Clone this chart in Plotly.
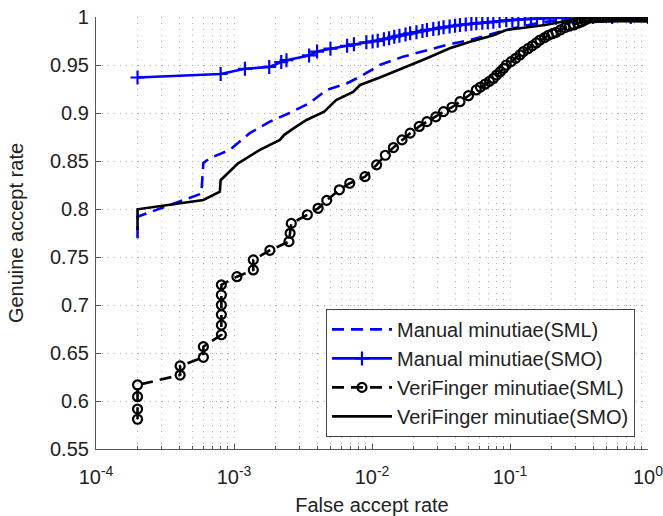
import plotly.graph_objects as go

# ---- data ----
manual_sml_far = [2e-4, 2e-4, 5.8e-4, 6.0e-4, 6.7e-4, 9.3e-4, 1.3e-3, 1.82e-3, 2.5e-3, 3.5e-3,
                  4.7e-3, 6.6e-3, 8.2e-3, 0.0114, 0.0168, 0.025, 0.0346, 0.0515, 0.0757, 0.094,
                  0.15, 0.25, 0.4, 0.6, 1.0]
manual_sml_gar = [0.7695, 0.792, 0.816, 0.848, 0.853, 0.8615, 0.879, 0.891, 0.8997, 0.910,
                  0.924, 0.931, 0.9378, 0.950, 0.9587, 0.9656, 0.9708, 0.976, 0.983, 0.9865,
                  0.993, 0.998, 1.0, 1.0, 1.0]

manual_smo_far = [2e-4, 8e-4, 1.2e-3, 1.8e-3, 2.2e-3, 2.4e-3, 3.5e-3, 4.0e-3, 5.0e-3, 6.6e-3,
                  7.4e-3, 9.1e-3, 0.0101, 0.0110, 0.0122, 0.0133, 0.0145, 0.0158, 0.0175, 0.0189,
                  0.0210, 0.0232, 0.0250, 0.0278, 0.0305, 0.0330, 0.0365, 0.0400, 0.0434, 0.0478,
                  0.0525, 0.0570, 0.0630, 0.0690, 0.0757, 0.0840, 0.0940, 0.104, 0.115, 0.128,
                  0.142, 0.157, 0.175, 0.195, 0.215, 0.240, 0.265, 0.295, 0.330, 0.40, 0.55,
                  0.75, 1.0]
manual_smo_gar = [0.937, 0.9406, 0.946, 0.948, 0.953, 0.955, 0.960, 0.964, 0.967, 0.970,
                  0.9715, 0.9736, 0.9745, 0.9752, 0.9768, 0.9778, 0.9795, 0.9805, 0.9818, 0.983,
                  0.9842, 0.9855, 0.9865, 0.9875, 0.9884, 0.9892, 0.9901, 0.991, 0.9917, 0.9923,
                  0.9929, 0.9934, 0.9940, 0.9945, 0.995, 0.9958, 0.9966, 0.997, 0.9974, 0.9978,
                  0.998, 0.9984, 0.9987, 0.999, 0.9992, 0.9994, 0.9996, 0.9998, 1.0, 1.0, 1.0,
                  1.0, 1.0]

veri_sml_far = [2e-4, 2e-4, 2e-4, 2e-4, 4.07e-4, 4.07e-4, 6.0e-4, 6.0e-4,
                8.1e-4, 8.1e-4, 8.1e-4, 8.1e-4, 8.1e-4, 8.1e-4,
                1.05e-3, 1.38e-3, 1.38e-3, 1.82e-3, 2.5e-3, 2.55e-3, 2.6e-3, 3.4e-3, 4.07e-3,
                4.7e-3, 5.8e-3, 6.9e-3, 8.9e-3, 0.0108, 0.0125, 0.0143, 0.0165, 0.0189, 0.022,
                0.025, 0.029, 0.033, 0.038, 0.0434, 0.050, 0.057, 0.061, 0.066, 0.071, 0.0757,
                0.080, 0.085, 0.090, 0.094, 0.102, 0.110, 0.118, 0.125, 0.135, 0.145, 0.155,
                0.165, 0.178, 0.19, 0.203, 0.216, 0.232, 0.25, 0.27, 0.29, 0.31, 0.33, 0.345,
                0.36, 0.38, 0.40, 0.42, 0.44, 0.46, 0.48, 0.50, 0.53, 0.56, 0.59, 0.62, 0.65,
                0.68, 0.71, 0.74, 0.77, 0.80, 0.83, 0.86, 0.89, 0.92, 0.95, 0.98, 1.0]
veri_sml_gar = [0.581, 0.5916, 0.6045, 0.6167, 0.627, 0.6365, 0.6455, 0.6566,
                0.669, 0.679, 0.690, 0.700, 0.7104, 0.721,
                0.7295, 0.7365, 0.747, 0.757, 0.766, 0.7747, 0.785, 0.794, 0.8007,
                0.809, 0.820, 0.8268, 0.8337, 0.846, 0.856, 0.864, 0.872, 0.879, 0.886,
                0.891, 0.896, 0.9014, 0.906, 0.9118, 0.918, 0.924, 0.927, 0.930, 0.933, 0.936,
                0.9395, 0.943, 0.9465, 0.950, 0.9535, 0.957, 0.9605, 0.9639, 0.967, 0.970, 0.973,
                0.976, 0.9785, 0.981, 0.9826, 0.984, 0.9865, 0.989, 0.9905, 0.9917, 0.9935, 0.995, 0.9965,
                0.998, 0.999, 0.9992, 0.9994, 0.9995, 0.9996, 0.9997, 0.9998, 0.9998, 0.9999, 0.9999, 1.0, 1.0,
                1.0, 1.0, 1.0, 1.0, 1.0, 1.0, 1.0, 1.0, 1.0, 1.0, 1.0, 1.0]

veri_smo_far = [2e-4, 2e-4, 6.0e-4, 7.9e-4, 8.0e-4, 1.07e-3, 1.17e-3, 1.54e-3, 2.15e-3, 2.3e-3,
                2.7e-3, 3.35e-3, 4.5e-3, 5.5e-3, 7.3e-3, 8.2e-3, 0.0114, 0.0168, 0.025, 0.0366,
                0.0515, 0.0757, 0.094, 0.18, 0.32, 0.5, 1.0]
veri_smo_gar = [0.778, 0.7997, 0.8094, 0.818, 0.830, 0.8476, 0.851, 0.8615, 0.872, 0.877,
                0.884, 0.8927, 0.9014, 0.9135, 0.922, 0.9292, 0.937, 0.9466, 0.957, 0.9674,
                0.9743, 0.981, 0.9865, 0.9917, 0.9986, 1.0, 1.0]

x_tickvals = [1e-4, 1e-3, 1e-2, 1e-1, 1]
x_ticktext = ["10<sup>-4</sup>", "10<sup>-3</sup>", "10<sup>-2</sup>", "10<sup>-1</sup>", "10<sup>0</sup>"]
y_tickvals = [0.55, 0.6, 0.65, 0.7, 0.75, 0.8, 0.85, 0.9, 0.95, 1.0]
y_ticktext = ["0.55", "0.6", "0.65", "0.7", "0.75", "0.8", "0.85", "0.9", "0.95", "1"]

BLUE = "#0000ff"
BLACK = "#000000"
FONT = "Liberation Sans, Arial, Helvetica, sans-serif"
FS = 20

fig = go.Figure()
fig.add_trace(go.Scatter(x=manual_sml_far, y=manual_sml_gar, mode="lines",
                         name="Manual minutiae(SML)",
                         line=dict(color=BLUE, width=2.6, dash="12px,7px")))
fig.add_trace(go.Scatter(x=manual_smo_far, y=manual_smo_gar, mode="lines+markers",
                         name="Manual minutiae(SMO)",
                         line=dict(color=BLUE, width=2.6),
                         marker=dict(symbol="cross-thin", size=10, color=BLUE,
                                     line=dict(color=BLUE, width=2.2))))
fig.add_trace(go.Scatter(x=veri_sml_far, y=veri_sml_gar, mode="lines+markers",
                         name="VeriFinger minutiae(SML)",
                         line=dict(color=BLACK, width=2.6, dash="12px,7px"),
                         marker=dict(symbol="circle-open", size=9, color=BLACK,
                                     line=dict(color=BLACK, width=2.2))))
fig.add_trace(go.Scatter(x=veri_smo_far, y=veri_smo_gar, mode="lines",
                         name="VeriFinger minutiae(SMO)",
                         line=dict(color=BLACK, width=2.6)))

GRID = "#b0b0b0"
fig.update_layout(
    width=663, height=516,
    margin=dict(l=96, r=15, t=17, b=67, autoexpand=False),
    paper_bgcolor="white", plot_bgcolor="white",
    font=dict(family=FONT, size=FS, color="#222222"),
    showlegend=True,
    legend=dict(x=0.9764, y=0.028, xanchor="right", yanchor="bottom",
                bgcolor="white", bordercolor="#444444", borderwidth=1,
                font=dict(size=FS, color="#222222"), itemwidth=60,
                tracegroupgap=0),
    xaxis=dict(type="log", range=[-4, 0], tickmode="array",
               tickvals=x_tickvals, ticktext=x_ticktext, automargin=False,
               ticklabeloverflow="allow",
               showline=True, linecolor="#555555", linewidth=1.2,
               ticks="inside", ticklen=5, tickcolor="#555555",
               showgrid=True, gridcolor=GRID, griddash="1px,5px", gridwidth=1,
               minor=dict(dtick="D1", showgrid=True, gridcolor=GRID, griddash="1px,5px",
                          ticks="inside", ticklen=3, tickcolor="#555555"),
               zeroline=False, mirror=False, ticklabelstandoff=10,
               title=dict(text="False accept rate", standoff=12, font=dict(size=FS))),
    yaxis=dict(range=[0.55, 1.0], tickmode="array",
               tickvals=y_tickvals, ticktext=y_ticktext, automargin=False,
               ticklabeloverflow="allow",
               showline=True, linecolor="#555555", linewidth=1.2,
               ticks="inside", ticklen=5, tickcolor="#555555",
               showgrid=True, gridcolor=GRID, griddash="1px,5px", gridwidth=1,
               zeroline=False, mirror=False, ticklabelstandoff=2,
               title=dict(text="Genuine accept rate", standoff=20, font=dict(size=FS))),
)

fig.write_html("out.html")
